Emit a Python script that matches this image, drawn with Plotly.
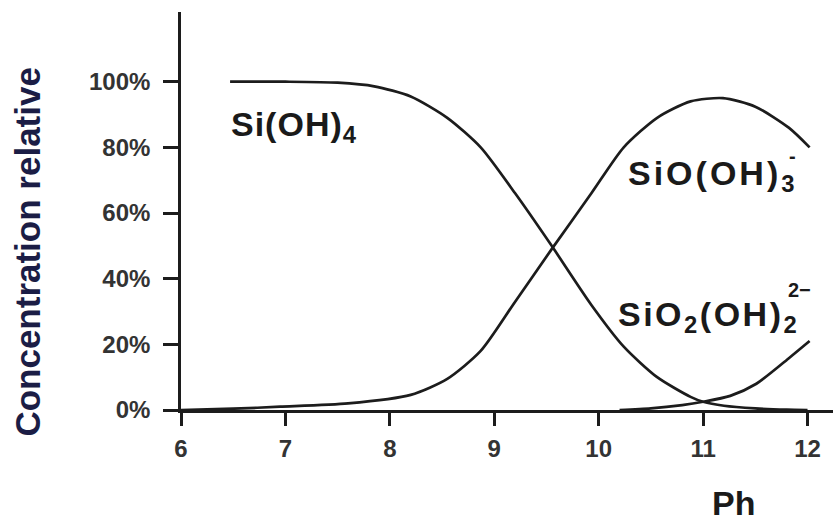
import plotly.graph_objects as go

# ---- data ----
ph_tick_vals = [6, 7, 8, 9, 10, 11, 12]
pct_tick_vals = [0, 20, 40, 60, 80, 100]
pct_tick_text = ["0%", "20%", "40%", "60%", "80%", "100%"]

ph_sioh4 = [6.47, 7.0, 7.5, 7.85, 8.2, 8.55, 8.87, 9.2, 9.55, 9.93, 10.24, 10.56, 10.88, 11.0, 11.2, 11.5, 11.8, 12.0]
sioh4 = [100, 100, 99.7, 98.6, 95.5, 89, 80, 66, 50, 32, 19.3, 10, 4, 2.5, 1.3, 0.5, 0.1, 0.0]

ph_sio_oh3 = [6.0, 6.5, 6.95, 7.6, 8.2, 8.55, 8.87, 9.2, 9.55, 9.93, 10.24, 10.56, 10.88, 11.19, 11.5, 11.82, 12.02]
sio_oh3 = [0, 0.4, 1, 2, 4.6, 9.5, 18, 33, 49, 66, 80, 89, 94, 95, 92.4, 86, 80]

ph_sio2_oh2 = [10.2, 10.5, 10.8, 11.0, 11.26, 11.51, 11.83, 12.02]
sio2_oh2 = [0, 0.5, 1.5, 2.5, 4.3, 8, 16, 21]

# ---- layout geometry ----
L, T, W, H = 180.5, 12, 652.5, 398
FIG_W, FIG_H = 833, 523
X_RANGE = [6, 6 + W / 104.5]
Y_RANGE = [0, H / 3.283]


def px(xp):
    return (xp - L) / W


def py(yp):
    return (T + H - yp) / H


LINE = "#1c1c1c"
FONT = "Arial, Liberation Sans, Helvetica, sans-serif"

fig = go.Figure()
for xs, ys in [(ph_sioh4, sioh4), (ph_sio_oh3, sio_oh3), (ph_sio2_oh2, sio2_oh2)]:
    fig.add_trace(go.Scatter(x=xs, y=ys, mode="lines",
                             line=dict(color=LINE, width=2.7, shape="spline", smoothing=0.7),
                             showlegend=False, hoverinfo="skip"))


def lab(text, x, y, size, anchor="left", spacing=0, color="#1a1a1a"):
    if spacing:
        text = "<span style='letter-spacing:%spx'>%s</span>" % (spacing, text)
    return dict(text=text, x=px(x), y=py(y), xref="paper", yref="paper",
                xanchor=anchor, yanchor="middle", showarrow=False,
                font=dict(family=FONT, size=size, color=color, weight="bold"))


annots = [
    lab("Si(OH)<sub>4</sub>", 229, 127, 34, spacing=1),
    lab("SiO(OH)<sub>3</sub>", 626, 175, 34, spacing=3),
    lab("-", 792, 156, 20, anchor="center"),
    lab("SiO<sub>2</sub>(OH)<sub>2</sub>", 616, 316, 34, spacing=2.5),
    lab("2−", 799, 290, 20, anchor="center"),
    lab("Ph", 733, 503, 34, anchor="center"),
]
ytitle = lab("Concentration relative", 27, 252, 35, anchor="center", color="#1b1d45")
ytitle["textangle"] = -90
annots.append(ytitle)

tickfont = dict(family=FONT, size=24, color="#333333", weight="bold")

fig.update_layout(
    width=FIG_W, height=FIG_H,
    margin=dict(l=L, r=FIG_W - L - W, t=T, b=FIG_H - T - H, pad=0),
    paper_bgcolor="white", plot_bgcolor="white",
    annotations=annots,
    xaxis=dict(range=X_RANGE, tickvals=ph_tick_vals, showline=True, linecolor=LINE, linewidth=2.7,
               ticks="outside", ticklen=13, tickwidth=2.7, tickcolor=LINE, showgrid=False, zeroline=False,
               ticklabelstandoff=2, tickfont=tickfont, automargin=False),
    yaxis=dict(range=Y_RANGE, tickvals=pct_tick_vals, ticktext=pct_tick_text,
               showline=True, linecolor=LINE, linewidth=2.7,
               ticks="outside", ticklen=15, tickwidth=2.7, tickcolor=LINE, showgrid=False, zeroline=False,
               ticklabelstandoff=8, tickfont=tickfont, automargin=False),
)

fig.write_html("out.html", config={"displayModeBar": False},
               post_script="document.body.style.margin='0';")
